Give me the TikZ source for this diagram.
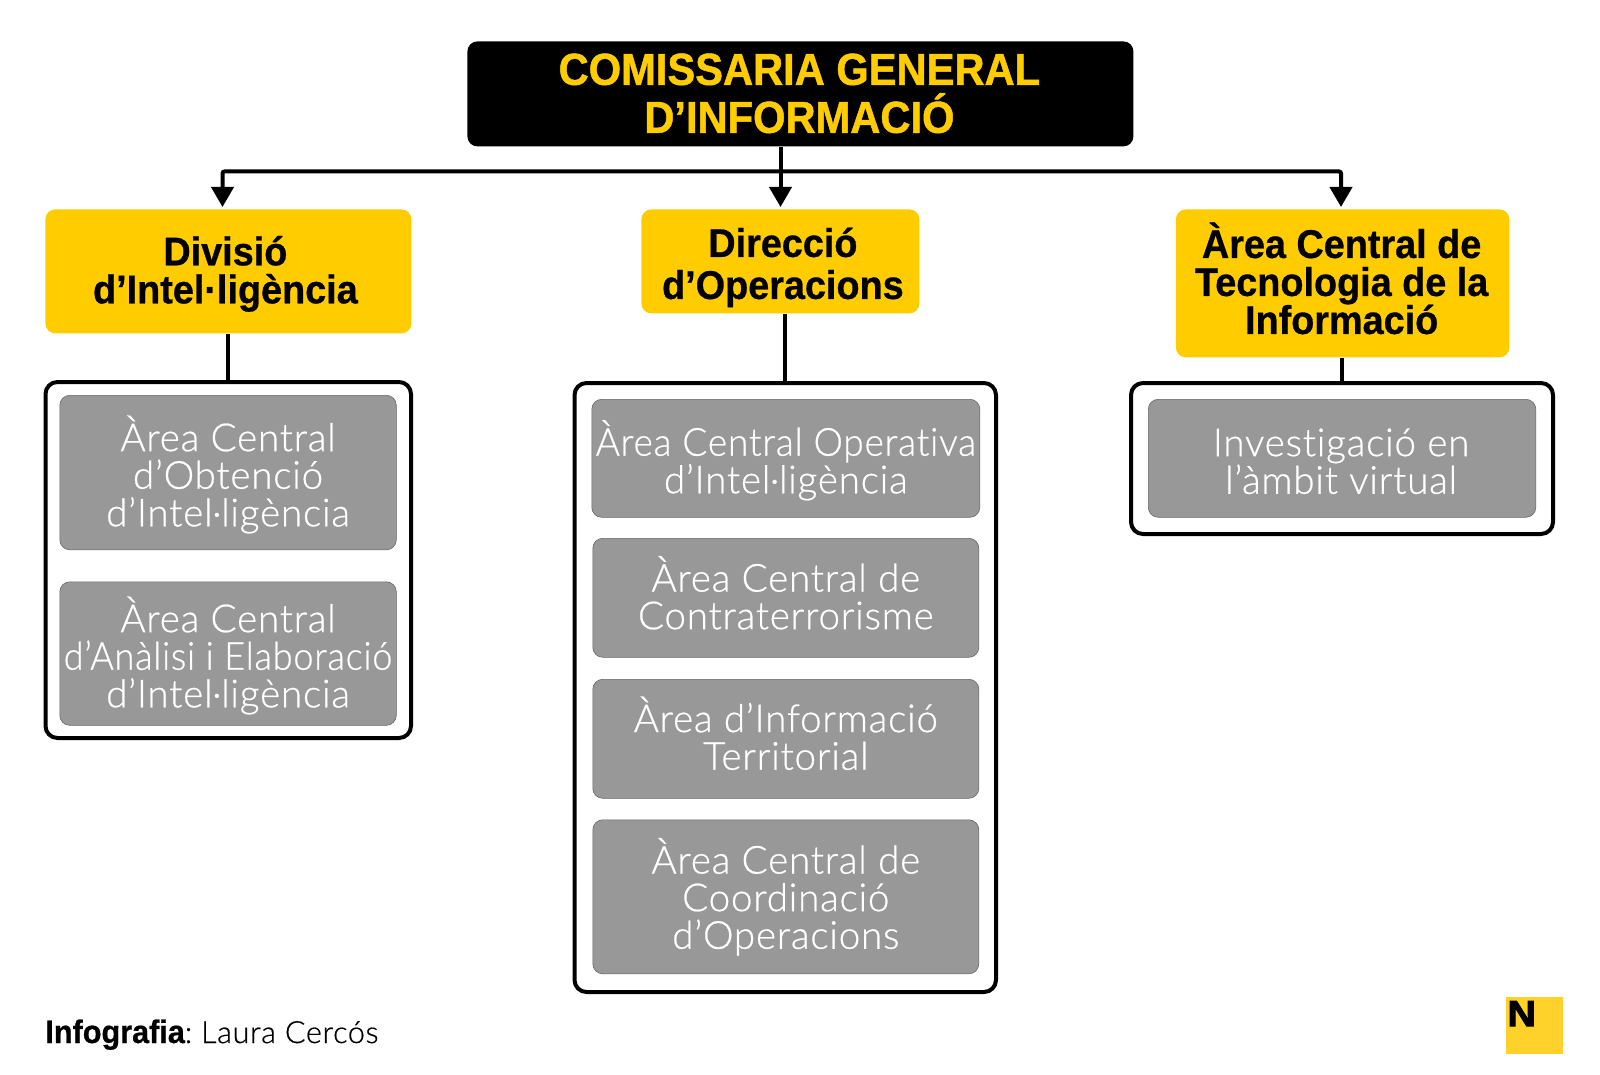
\documentclass[tikz,border=0pt]{standalone}
\usepackage{fontspec}
\setmainfont{Liberation Sans}
\newfontfamily\heavyf[FakeBold=0.7,FakeStretch=0.945]{Liberation Sans Bold}
\newfontfamily\titlef[FakeBold=1.1,FakeStretch=0.93]{Liberation Sans Bold}
\newfontfamily\logof[FakeBold=3,FakeStretch=1.1]{Liberation Sans Bold}
\newfontfamily\lightf[LetterSpace=2,Ligatures=NoCommon,FakeBold=0.6]{Lato Light}
\newfontfamily\lightn[LetterSpace=2,Ligatures=NoCommon,FakeBold=0.6,FakeStretch=0.96]{Lato Light}
\newfontfamily\lightm[LetterSpace=2,Ligatures=NoCommon,FakeBold=0.6,FakeStretch=0.935]{Lato Light}
\usetikzlibrary{arrows.meta}
\definecolor{nyellow}{HTML}{FFCC00}
\definecolor{ngrey}{HTML}{999899}
\definecolor{nlogo}{HTML}{FFD12A}
\tikzset{
  x=0.5pt,y=-0.5pt,
  box/.style={rectangle,rounded corners=5pt,inner sep=0pt},
  boss/.style={box,fill=black},
  head/.style={box,fill=nyellow},
  frame/.style={rectangle,rounded corners=6pt,draw=black,line width=2pt,fill=white,inner sep=0pt},
  leaf/.style={box,fill=ngrey,draw=black!60,line width=0.3pt},
  bosstext/.style={align=center,inner sep=0pt,text=nyellow,font=\titlef\fontsize{22.4}{24}\selectfont},
  headtext/.style={align=center,inner sep=0pt,text=black,font=\heavyf\fontsize{20}{19}\selectfont},
  headwide/.style={align=center,inner sep=0pt,text=black,font=\heavyf\fontsize{20}{21}\selectfont},
  leaftext/.style={align=center,inner sep=0pt,text=white,font=\lightf\fontsize{19.3}{18.8}\selectfont},
  flow/.style={line width=2pt,draw=black,rounded corners=1pt,-{Triangle[length=10pt,width=11pt]}},
  link/.style={line width=2pt,draw=black},
}
\newcommand{\boxat}[6]{\node[#1,minimum width=(#5-#3)*0.5pt,minimum height=(#6-#4)*0.5pt,anchor=north west] (#2) at (#3,#4) {};}
\newcommand{\txt}[5]{\node[#4] (#1text) at ([shift={(#2,#3)}]#1.center) {#5};}
\begin{document}
\begin{tikzpicture}
\useasboundingbox (0,0) rectangle (1600,1075);
\boxat{boss}{top}{467}{41}{1133}{146}
\boxat{head}{hA}{45}{209}{411}{333}
\boxat{head}{hB}{641}{209}{919}{313}
\boxat{head}{hC}{1175.5}{209}{1509}{357}
\boxat{frame}{fA}{43.5}{380}{409}{736}
\boxat{frame}{fB}{572.5}{381}{994}{990}
\boxat{frame}{fC}{1129}{381}{1551}{532}
\boxat{leaf}{a1}{59.5}{395}{396}{549.5}
\boxat{leaf}{a2}{59.5}{581.5}{396}{725}
\boxat{leaf}{b1}{591.5}{399}{979.5}{517}
\boxat{leaf}{b2}{592.5}{538}{978.5}{657}
\boxat{leaf}{b3}{592.5}{679}{978.5}{798}
\boxat{leaf}{b4}{592.5}{819.5}{978.5}{973.5}
\boxat{leaf}{c1}{1148}{399}{1535.5}{517}
\txt{top}{-1}{-0.5}{bosstext}{COMISSARIA GENERAL\\D’INFORMACIÓ}
\txt{hA}{-3}{2.5}{headtext}{Divisió\\d’Intel·ligència}
\txt{hB}{2.5}{6}{headwide}{Direcció\\d’Operacions}
\txt{hC}{-1}{-5}{headtext}{Àrea Central de\\Tecnologia de la\\Informació}
\txt{a1}{0}{2}{leaftext}{Àrea Central\\d’Obtenció\\d’Intel·ligència}
\txt{a2}{0}{2}{leaftext}{Àrea Central\\{\lightm d’Anàlisi i Elaboració}\\d’Intel·ligència}
\txt{b1}{0}{2}{leaftext}{{\lightn Àrea Central Operativa}\\d’Intel·ligència}
\txt{b2}{0}{-5}{leaftext}{Àrea Central de\\Contraterrorisme}
\txt{b3}{0}{-5.5}{leaftext}{Àrea d’Informació\\Territorial}
\txt{b4}{0}{0}{leaftext}{Àrea Central de\\Coordinació\\d’Operacions}
\txt{c1}{-1}{3}{leaftext}{Investigació en\\l’àmbit virtual}
\coordinate (tA) at (222.5,207);
\coordinate (tB) at (780.5,207);
\coordinate (tC) at (1341,207);
\coordinate (bus) at (780.5,171.5);
\coordinate (dA) at (227.5,350);
\coordinate (dB) at (784.7,350);
\coordinate (dC) at (1342,350);
\draw[flow] (top.south -| bus) -- (tB);
\draw[flow] (bus) -| (tA);
\draw[flow] (bus) -| (tC);
\draw[link] (hA.south -| dA) -- (fA.north -| dA);
\draw[link] (hB.south -| dB) -- (fB.north -| dB);
\draw[link] (hC.south -| dC) -- (fC.north -| dC);
\node[anchor=base west,inner sep=0pt] (credit) at (45,1043) {{\heavyf\fontsize{16.2}{18}\selectfont Infografia}{\lightf\fontsize{15.3}{18}\selectfont:\hspace{-1.5pt} Laura Cercós}};
\node[rectangle,fill=nlogo,minimum size=28.5pt,inner sep=0pt,anchor=north west] (logo) at (1505.5,997) {};
\node[anchor=base west,inner sep=0pt,font=\logof\fontsize{18}{18}\selectfont] (logoN) at (1507,1026) {N};
\end{tikzpicture}
\end{document}
